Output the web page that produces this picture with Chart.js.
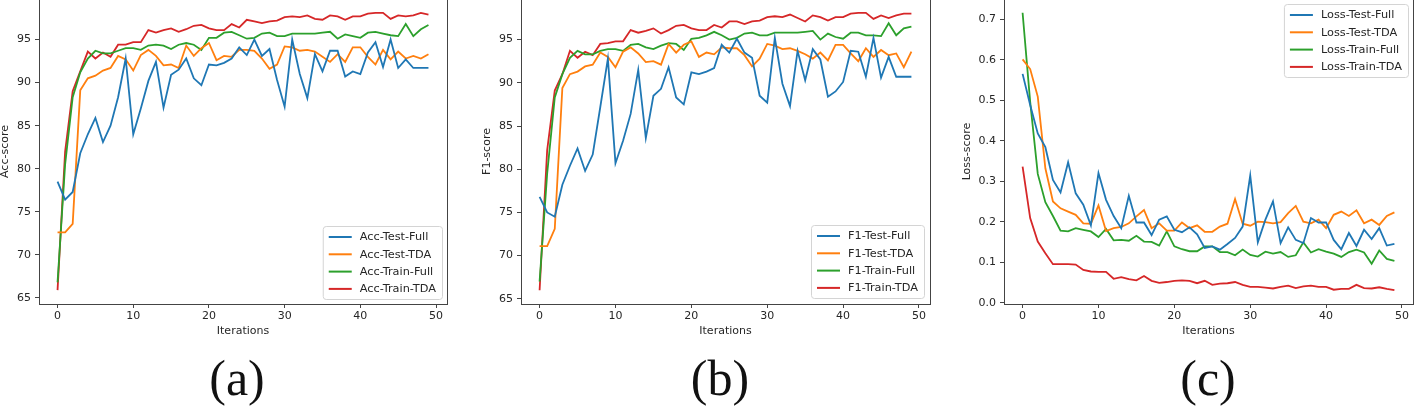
<!DOCTYPE html>
<html>
<head>
<meta charset="utf-8">
<script src="https://cdn.jsdelivr.net/npm/chart.js@4.4.0/dist/chart.umd.min.js"></script>
<style>
  html, body { margin: 0; padding: 0; background: #fff; width: 1414px; height: 410px; overflow: hidden; }
  canvas { position: absolute; top: -3px; }
  .caption {
    position: absolute; top: 353px;
    font-family: "Liberation Serif", "DejaVu Serif", serif;
    font-size: 50px; line-height: 50px; color: #111;
    transform: translateX(-50%); white-space: nowrap;
  }
</style>
</head>
<body>
<canvas id="chart-a" width="470" height="348" style="left:0px"></canvas>
<canvas id="chart-b" width="470" height="348" style="left:470px"></canvas>
<canvas id="chart-c" width="474" height="348" style="left:940px"></canvas>
<div class="caption" style="left:237px">(a)</div>
<div class="caption" style="left:720px">(b)</div>
<div class="caption" style="left:1208px">(c)</div>

<script>
const iterations = [0,1,2,3,4,5,6,7,8,9,10,11,12,13,14,15,16,17,18,19,20,21,22,23,24,25,26,27,28,29,30,31,32,33,34,35,36,37,38,39,40,41,42,43,44,45,46,47,48,49]

const xTicks = [0, 10, 20, 30, 40, 50]
const scoreTicks = [65, 70, 75, 80, 85, 90, 95]
const lossTicks = [0.0, 0.1, 0.2, 0.3, 0.4, 0.5, 0.6, 0.7]

// (a) accuracy
const accTestFull = [78.5,76.4,77.3,81.8,84.0,85.9,83.1,85.0,88.3,92.8, 84.0,87.0,90.2,92.4,87.1,90.9,91.5,92.8,90.5,89.7, 92.1,92.0,92.3,92.8,94.1,93.2,95.0,93.1,93.9,90.3, 87.2,95.0,91.0,88.2,93.3,91.3,93.7,93.7,90.7,91.3, 91.0,93.5,94.7,91.8,95.0,91.7,92.7,91.7,91.7,91.7]
const accTestTda = [72.6,72.6,73.6,89.1,90.5,90.8,91.4,91.7,93.1,92.7, 91.4,93.2,93.8,93.1,92.0,92.1,91.7,94.3,93.1,94.0, 94.6,92.6,93.1,93.0,93.8,93.8,93.7,92.8,91.6,92.1, 94.2,94.1,93.7,93.8,93.6,93.0,92.4,93.3,92.4,94.1, 94.1,93.0,92.1,93.8,92.7,93.6,92.8,93.1,92.8,93.3]
const accTrainFull = [66.8,80.5,88.3,91.2,92.8,93.7,93.4,93.4,93.7,94.0, 94.0,93.8,94.3,94.4,94.3,93.9,94.4,94.6,94.4,93.8, 95.2,95.2,95.8,95.9,95.5,95.1,95.2,95.7,95.8,95.4, 95.4,95.7,95.7,95.7,95.7,95.8,95.9,95.1,95.6,95.4, 95.2,95.8,95.9,95.7,95.5,95.4,96.8,95.4,96.2,96.7]
const accTrainTda = [65.9,82.0,89.0,91.3,93.6,92.8,93.5,93.0,94.4,94.4, 94.7,94.7,96.1,95.8,96.1,96.3,95.9,96.2,96.6,96.7, 96.3,96.1,96.1,96.8,96.4,97.3,97.1,96.9,97.1,97.2, 97.6,97.7,97.6,97.8,97.4,97.3,97.8,97.7,97.3,97.7, 97.7,98.0,98.1,98.1,97.4,97.8,97.7,97.8,98.1,97.9]

// (b) f1
const f1TestFull = [76.8,75.0,74.5,78.2,80.4,82.4,79.8,81.7,87.2,92.8, 80.7,83.3,86.4,91.5,83.6,88.5,89.3,91.8,88.3,87.5, 91.2,91.0,91.3,91.7,94.4,93.5,95.1,93.5,92.9,88.5, 87.7,95.2,89.9,87.3,93.7,90.3,93.9,92.7,88.4,89.0, 90.1,93.7,93.6,90.7,95.2,90.6,93.0,90.7,90.7,90.7]
const f1TestTda = [71.1,71.1,73.1,89.4,91.0,91.3,91.9,92.1,93.5,93.0, 91.8,93.6,94.1,93.4,92.4,92.5,92.1,94.5,93.5,94.4, 94.8,93.0,93.5,93.3,94.1,94.0,94.0,93.2,91.9,92.8, 94.5,94.3,93.9,94.0,93.7,93.3,92.8,93.5,92.6,94.4, 94.4,93.4,92.5,94.0,93.0,93.8,93.2,93.4,91.8,93.6]
const f1TrainFull = [67.0,79.5,88.3,91.0,92.9,93.7,93.3,93.3,93.7,93.9, 93.9,93.7,94.4,94.5,94.1,93.9,94.3,94.6,94.5,93.8, 95.1,95.2,95.5,95.9,95.5,95.0,95.2,95.7,95.8,95.5, 95.5,95.8,95.8,95.8,95.8,95.9,96.0,95.0,95.7,95.3, 95.1,95.8,95.8,95.5,95.5,95.4,96.9,95.5,96.3,96.5]
const f1TrainTda = [66.0,82.2,89.1,91.0,93.7,92.9,93.6,93.2,94.5,94.6, 94.8,94.8,96.1,95.8,96.0,96.3,95.7,96.1,96.6,96.7, 96.3,96.1,96.1,96.7,96.4,97.1,97.1,96.8,97.1,97.2, 97.6,97.7,97.6,97.9,97.5,97.1,97.8,97.6,97.2,97.6, 97.6,98.0,98.1,98.1,97.4,97.8,97.5,97.8,98.0,98.0]

// (c) loss
const lossTestFull = [0.565,0.488,0.418,0.384,0.303,0.272,0.347,0.270,0.242,0.191, 0.320,0.254,0.214,0.184,0.264,0.198,0.198,0.167,0.205,0.213, 0.180,0.174,0.186,0.169,0.135,0.139,0.131,0.145,0.160,0.188, 0.314,0.149,0.205,0.250,0.147,0.186,0.155,0.147,0.209,0.198, 0.198,0.155,0.132,0.172,0.140,0.180,0.157,0.184,0.141,0.145]
const lossTestTda = [0.601,0.577,0.509,0.332,0.250,0.233,0.225,0.217,0.196,0.195, 0.240,0.177,0.184,0.187,0.196,0.213,0.229,0.184,0.196,0.178, 0.178,0.198,0.184,0.191,0.175,0.175,0.188,0.195,0.256,0.195, 0.190,0.200,0.199,0.196,0.199,0.221,0.239,0.200,0.196,0.205, 0.184,0.217,0.225,0.214,0.228,0.196,0.205,0.192,0.214,0.223]
const lossTrainFull = [0.716,0.496,0.318,0.248,0.214,0.178,0.176,0.184,0.180,0.176, 0.162,0.182,0.154,0.155,0.153,0.165,0.151,0.150,0.141,0.176, 0.139,0.132,0.127,0.127,0.139,0.139,0.125,0.125,0.117,0.131, 0.118,0.114,0.126,0.121,0.125,0.113,0.117,0.149,0.124,0.132, 0.126,0.121,0.113,0.125,0.131,0.124,0.096,0.129,0.108,0.103]
const lossTrainTda = [0.336,0.209,0.151,0.122,0.095,0.095,0.095,0.094,0.081,0.077, 0.076,0.076,0.059,0.063,0.058,0.055,0.066,0.054,0.049,0.051, 0.054,0.055,0.054,0.048,0.054,0.044,0.047,0.048,0.051,0.044, 0.039,0.039,0.037,0.035,0.039,0.042,0.036,0.040,0.042,0.039, 0.039,0.032,0.034,0.034,0.044,0.036,0.035,0.038,0.034,0.031]

const colors = ['#1f77b4', '#ff7f0e', '#2ca02c', '#d62728']
const textColor = '#262626'
const frameColor = '#444'
const FONT = 'DejaVu Sans'

// matplotlib style frame round the plot
const frameBox = {
  id: 'frameBox',
  afterDatasetsDraw(chart) {
    const { ctx, chartArea: a } = chart
    ctx.save()
    ctx.strokeStyle = frameColor
    ctx.lineWidth = 1
    ctx.strokeRect(Math.round(a.left) + 0.5, Math.round(a.top) + 0.5, Math.round(a.right - a.left), Math.round(a.bottom - a.top))
    ctx.restore()
  }
}

// legend box drawn inside the plot area
const boxLegend = {
  id: 'boxLegend',
  afterDraw(chart, args, opts) {
    const { ctx, chartArea } = chart
    const sets = chart.data.datasets
    ctx.save()
    ctx.font = `11.3px "${FONT}"`
    const textW = Math.max(...sets.map(d => ctx.measureText(d.label).width))
    const w = 6 + 23 + 8 + textW + 6
    const h = 73
    const x = chartArea.right - opts.inset - w
    const y = opts.corner === 'top' ? chartArea.top + opts.insetTop : chartArea.bottom - opts.inset - h
    ctx.beginPath()
    ctx.roundRect(x + 0.5, y + 0.5, w, h, 3)
    ctx.fillStyle = 'rgba(255,255,255,0.8)'
    ctx.fill()
    ctx.strokeStyle = '#d4d4d4'
    ctx.lineWidth = 1
    ctx.stroke()
    sets.forEach((d, i) => {
      const rowY = y + 11 + i * 17.3
      ctx.beginPath()
      ctx.moveTo(x + 6, rowY)
      ctx.lineTo(x + 29, rowY)
      ctx.strokeStyle = d.borderColor
      ctx.lineWidth = 2
      ctx.stroke()
      ctx.fillStyle = textColor
      ctx.textBaseline = 'middle'
      ctx.textAlign = 'left'
      ctx.fillText(d.label, x + 37, rowY + 0.5)
    })
    ctx.restore()
  }
}

const createPanel = (id, cfg) => {
  const ctx = document.getElementById(id)
  const datasets = cfg.series.map((s, i) => ({
    label: cfg.labels[i],
    data: s,
    borderColor: colors[i],
    backgroundColor: colors[i],
    borderWidth: 1.8,
    pointRadius: 0,
    tension: 0,
    fill: false
  }))
  new Chart(ctx, {
    type: 'line',
    data: { labels: iterations, datasets: datasets },
    plugins: [frameBox, boxLegend],
    options: {
      responsive: false,
      animation: false,
      events: [],
      layout: { padding: { top: 2, right: cfg.padRight, left: 0, bottom: 0 } },
      plugins: {
        legend: { display: false },
        tooltip: { enabled: false },
        boxLegend: cfg.legend
      },
      scales: {
        x: {
          type: 'linear',
          bounds: 'data',
          min: -2.45,
          max: 51.45,
          afterBuildTicks: s => { s.ticks = xTicks.map(v => ({ value: v })) },
          afterFit: s => {
            s.height = 41
            s.paddingLeft = 0
            s.paddingRight = 0
          },
          grid: { drawOnChartArea: false, drawTicks: true, tickLength: 4, tickColor: frameColor },
          border: { display: false },
          ticks: { autoSkip: false, maxRotation: 0, padding: 2, color: textColor, font: { family: FONT, size: 11 }, callback: v => String(v) },
          title: { display: true, text: 'Iterations', color: textColor, font: { family: FONT, size: 11, lineHeight: 1.2 }, padding: { top: 0, bottom: 7 } }
        },
        y: {
          type: 'linear',
          bounds: 'data',
          min: cfg.yMin,
          max: cfg.yMax,
          afterBuildTicks: s => { s.ticks = cfg.yTicks.map(v => ({ value: v })) },
          afterFit: s => {
            s.width = cfg.yWidth
            s.paddingTop = 0
            s.paddingBottom = 0
          },
          grid: { drawOnChartArea: false, drawTicks: true, tickLength: 4, tickColor: frameColor },
          border: { display: false },
          ticks: { autoSkip: false, padding: 4, color: textColor, font: { family: FONT, size: 11 }, callback: cfg.yFormat },
          title: { display: true, text: cfg.yTitle, color: textColor, font: { family: FONT, size: 11, lineHeight: 1 }, padding: { top: cfg.yTitlePad, bottom: 0 } }
        }
      }
    }
  })
}

createPanel('chart-a', {
  series: [accTestFull, accTestTda, accTrainFull, accTrainTda],
  labels: ['Acc-Test-Full', 'Acc-Test-TDA', 'Acc-Train-Full', 'Acc-Train-TDA'],
  yMin: 64.29, yMax: 99.71, yTicks: scoreTicks, yFormat: v => String(v),
  yTitle: 'Acc-score', yWidth: 39, yTitlePad: 0, padRight: 23,
  legend: { corner: 'bottom', inset: 5 }
})

createPanel('chart-b', {
  series: [f1TestFull, f1TestTda, f1TrainFull, f1TrainTda],
  labels: ['F1-Test-Full', 'F1-Test-TDA', 'F1-Train-Full', 'F1-Train-TDA'],
  yMin: 64.4, yMax: 99.7, yTicks: scoreTicks, yFormat: v => String(v),
  yTitle: 'F1-score', yWidth: 51, yTitlePad: 11.5, padRight: 10,
  legend: { corner: 'bottom', inset: 6 }
})

createPanel('chart-c', {
  series: [lossTestFull, lossTestTda, lossTrainFull, lossTrainTda],
  labels: ['Loss-Test-Full', 'Loss-Test-TDA', 'Loss-Train-Full', 'Loss-Train-TDA'],
  yMin: -0.0033, yMax: 0.750, yTicks: lossTicks, yFormat: v => v.toFixed(1),
  yTitle: 'Loss-score', yWidth: 64, yTitlePad: 21.5, padRight: 1,
  legend: { corner: 'top', inset: 5, insetTop: 5 }
})
</script>
</body>
</html>
